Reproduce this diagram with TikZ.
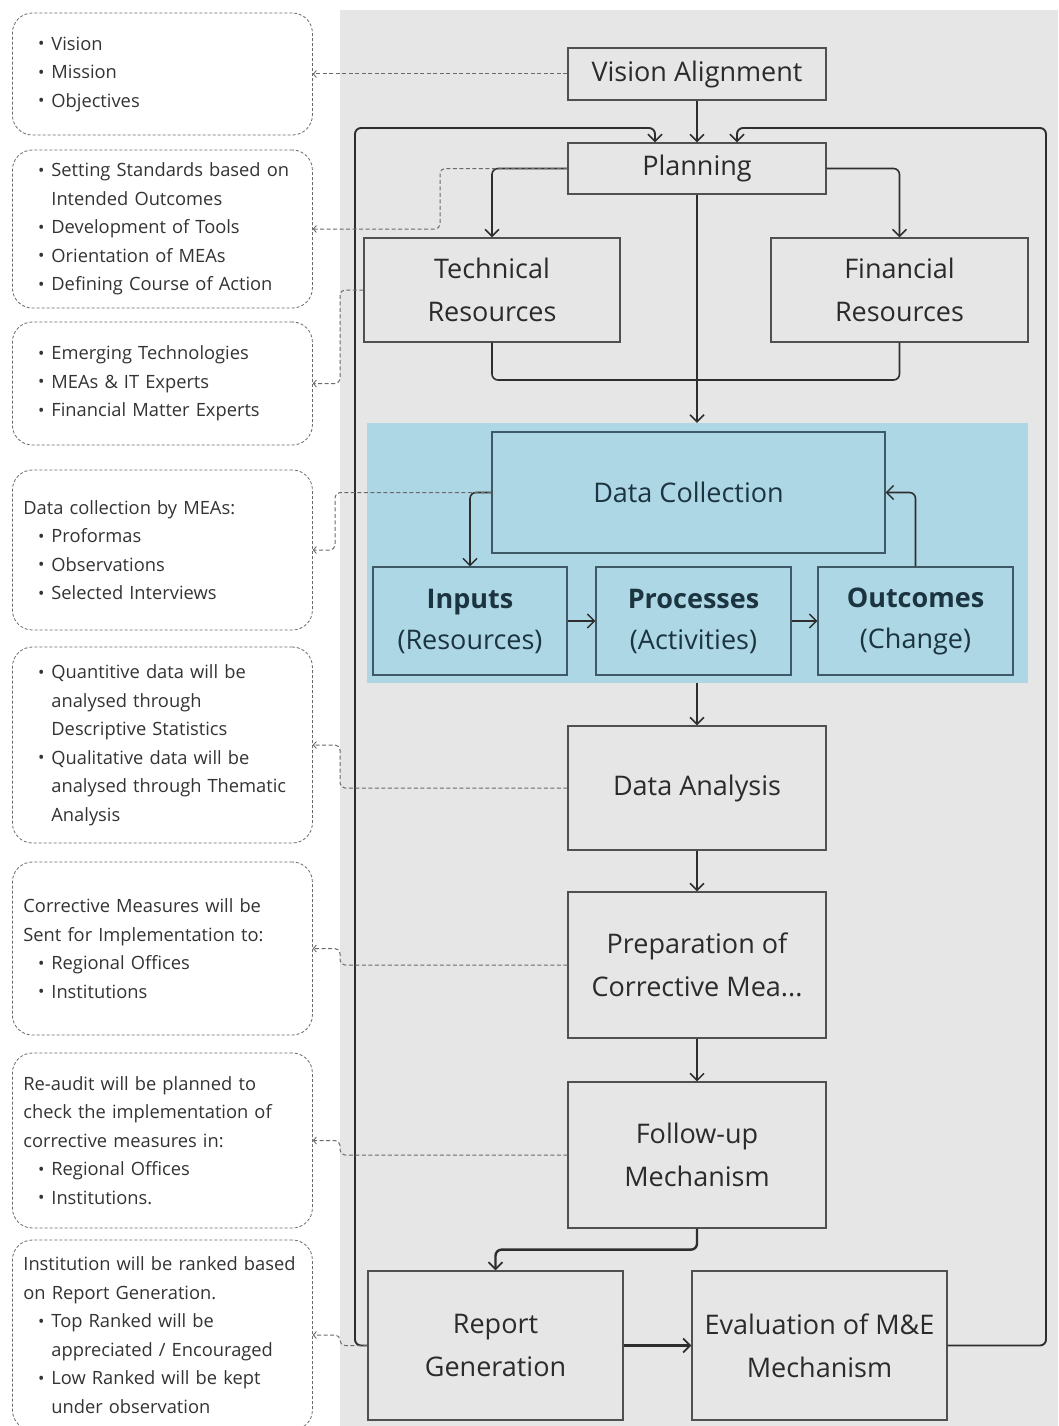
\documentclass[tikz,border=0pt]{standalone}
\usepackage{fontspec}
\setmainfont{Open Sans}
\usetikzlibrary{arrows.meta}

\definecolor{panel}{HTML}{E6E6E6}
\definecolor{groupblue}{HTML}{ADD7E5}
\definecolor{boxline}{HTML}{505050}
\definecolor{blueline}{HTML}{3F5A66}
\definecolor{maintext}{HTML}{2B2B2B}
\definecolor{bluetext}{HTML}{1B3440}
\definecolor{wire}{HTML}{2E2E2E}
\definecolor{noteline}{HTML}{6A6A6A}
\definecolor{notetext}{HTML}{333333}

\newcommand\boxfont{\fontsize{27}{43}\selectfont}
\newcommand\notefont{\fontsize{18.3}{28.5}\selectfont}
% bullet item and continuation line inside the side notes
\newcommand\bi[1]{\hspace*{28pt}\llap{{\fontsize{17}{17}\selectfont\raisebox{0.5pt}{\textbullet}}\hspace{7pt}}#1}
\newcommand\ci[1]{\hspace*{28pt}#1}

\tikzset{
  mbox/.style={draw=boxline, line width=1.3pt, fill=panel, align=center,
    font=\boxfont, text=maintext, inner sep=0pt},
  bbox/.style={draw=blueline, line width=1.2pt, fill=groupblue, align=center,
    font=\boxfont, text=bluetext, inner sep=0pt},
  note/.style={draw=noteline, dash pattern=on 3pt off 2pt, line width=0.8pt,
    rounded corners=20pt, minimum width=300pt, text width=278pt, inner xsep=11pt,
    align=left, font=\notefont, text=notetext, anchor=west},
  wireline/.style={draw=wire, line width=1.6pt, rounded corners=6pt},
  flow/.style={wireline, -{Straight Barb[length=7pt,width=14pt,line width=1.5pt]}},
  flowbold/.style={draw=wire, line width=2.4pt, rounded corners=6pt,
    -{Straight Barb[length=7pt,width=14pt,line width=1.7pt]}},
  loopline/.style={draw=wire, line width=1.9pt, rounded corners=6pt,
    -{Straight Barb[length=7pt,width=14pt,line width=1.6pt]}},
  noteconn/.style={draw=noteline, line width=1pt, dash pattern=on 4pt off 2.5pt,
    rounded corners=5pt, -{Straight Barb[length=3pt,width=7pt,line width=0.9pt]}},
}

\begin{document}
\begin{tikzpicture}[x=1pt,y=-1pt]
\useasboundingbox (0,0) rectangle (1058,1426);
\fill[white] (0,0) rectangle (1058,1426);
\fill[panel] (340,10) rectangle (1058,1426);

% ---- side notes ----
\node[note, minimum height=122pt] (n1) at (12,74) {\bi{Vision}\\\bi{Mission}\\\bi{Objectives}};
\node[note, minimum height=158pt] (n2) at (12,229) {\bi{Setting Standards based on}\\\ci{Intended Outcomes}\\\bi{Development of Tools}\\\bi{Orientation of MEAs}\\\bi{Defining Course of Action}};
\node[note, minimum height=123pt] (n3) at (12,383.5) {\bi{Emerging Technologies}\\\bi{MEAs \& IT Experts}\\\bi{Financial Matter Experts}};
\node[note, minimum height=160pt] (n4) at (12,550) {Data collection by MEAs:\\\bi{Proformas}\\\bi{Observations}\\\bi{Selected Interviews}};
\node[note, minimum height=196pt] (n5) at (12,745) {\bi{Quantitive data will be}\\\ci{analysed through}\\\ci{Descriptive Statistics}\\\bi{Qualitative data will be}\\\ci{analysed through Thematic}\\\ci{Analysis}};
\node[note, minimum height=173pt] (n6) at (12,948.5) {Corrective Measures will be\\Sent for Implementation to:\\\bi{Regional Offices}\\\bi{Institutions}};
\node[note, minimum height=175pt] (n7) at (12,1140.5) {Re-audit will be planned to\\check the implementation of\\corrective measures in:\\\bi{Regional Offices}\\\bi{Institutions.}};
\node[note, minimum height=190pt] (n8) at (12,1335) {Institution will be ranked based\\on Report Generation.\\\bi{Top Ranked will be}\\\ci{appreciated / Encouraged}\\\bi{Low Ranked will be kept}\\\ci{under observation}};

% ---- data collection group ----
\node[fill=groupblue, minimum width=661pt, minimum height=260pt, inner sep=0pt] (grp) at (697.5,553) {};

% ---- main flow boxes ----
\node[mbox, minimum width=258pt, minimum height=52pt] (va) at (697,74) {Vision Alignment};
\node[mbox, minimum width=258pt, minimum height=51pt] (plan) at (697,168.5) {Planning};
\node[mbox, minimum width=256pt, minimum height=104pt] (tech) at (492,290) {Technical\\Resources};
\node[mbox, minimum width=257pt, minimum height=104pt] (fin) at (899.5,290) {Financial\\Resources};
\node[bbox, minimum width=393pt, minimum height=121pt] (dc) at (688.5,492.5) {Data Collection};
\node[bbox, minimum width=194pt, minimum height=108pt, font=\fontsize{27}{41}\selectfont] (inp) at (470,621) {\textbf{Inputs}\\(Resources)};
\node[bbox, minimum width=195pt, minimum height=108pt, font=\fontsize{27}{41}\selectfont] (proc) at (693.5,621) {\textbf{Processes}\\(Activities)};
\node[bbox, minimum width=195pt, minimum height=108pt, font=\fontsize{27}{41}\selectfont] (outc) at (915.5,621) {\textbf{Outcomes}\\(Change)};
\node[mbox, minimum width=258pt, minimum height=124pt] (da) at (697,788) {Data Analysis};
\node[mbox, minimum width=258pt, minimum height=146pt] (prep) at (697,965) {Preparation of\\Corrective Mea...};
\node[mbox, minimum width=258pt, minimum height=146pt] (fol) at (697,1155) {Follow-up\\Mechanism};
\node[mbox, minimum width=255pt, minimum height=149pt] (rep) at (495.5,1345.5) {Report\\Generation};
\node[mbox, minimum width=255pt, minimum height=149pt] (ev) at (819.5,1345.5) {Evaluation of M\&E\\Mechanism};

% ---- helper coordinates ----
\coordinate (loopL) at (355,128);
\coordinate (loopR) at (1046,128);
\coordinate (pinL) at ([xshift=-42pt]plan.north);
\coordinate (pinR) at ([xshift=40pt]plan.north);
\coordinate (merge) at (697,380);
\coordinate (xc) at (340,0);
\coordinate (xp) at (440,0);

% ---- feedback loops into planning ----
\draw[loopline] (rep.west) -| (loopL) -| (pinL);
\draw[loopline] (ev.east) -| (loopR) -| (pinR);

% ---- main connectors ----
\draw[flow] (va) -- (plan);
\draw[flow] (plan.west) -| (tech.north);
\draw[flow] (plan.east) -| (fin.north);
\draw[wireline] (tech.south) |- (merge) -| (fin.south);
\draw[flow] (plan.south) -- (plan.south |- grp.north);
\draw[flow] (dc.west) -| (inp.north);
\draw[flow] (inp) -- (proc);
\draw[flow] (proc) -- (outc);
\draw[flow] (outc.north) |- (dc.east);
\draw[flow] (plan.south |- grp.south) -- (da.north);
\draw[flow] (da) -- (prep);
\draw[flow] (prep) -- (fol);
\draw[flowbold] (fol.south) -- ++(0,21) -| (rep.north);
\draw[flowbold] (rep.east) -- (ev.west);

% ---- links to the side notes ----
\draw[noteconn] (va.west) -- (n1.east);
\draw[noteconn] (plan.west) -- (plan.west -| xp) |- (n2.east);
\draw[noteconn] (tech.west) -- (tech.west -| xc) |- (n3.east);
\draw[noteconn] (dc.west) -- ([xshift=-5pt]dc.west -| xc) |- (n4.east);
\draw[noteconn] (da.west) -- (da.west -| xc) |- (n5.east);
\draw[noteconn] (prep.west) -- (prep.west -| xc) |- (n6.east);
\draw[noteconn] (fol.west) -- (fol.west -| xc) |- (n7.east);
\draw[noteconn] (rep.west) -- (rep.west -| xc) |- (n8.east);
\end{tikzpicture}
\end{document}
